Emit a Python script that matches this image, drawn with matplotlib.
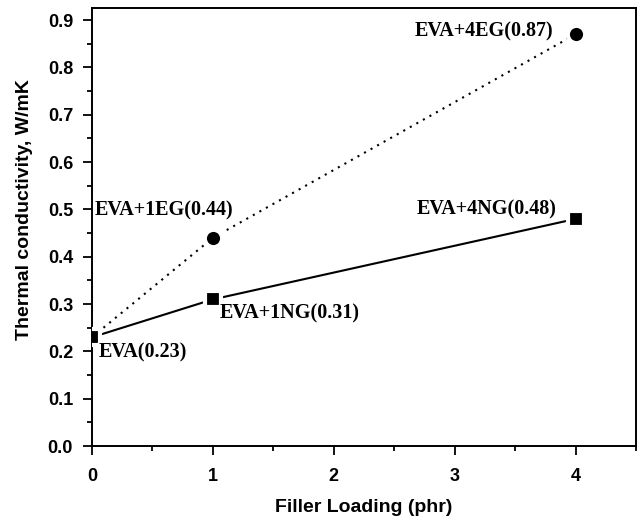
import numpy as np
import matplotlib
matplotlib.use('Agg')
import matplotlib.pyplot as plt
from matplotlib.ticker import MultipleLocator

# data
loading = [0, 1, 4]
k_ng = [0.23, 0.31, 0.48]
k_eg = [0.23, 0.44, 0.87]
labels_ng = ['EVA(0.23)', 'EVA+1NG(0.31)', 'EVA+4NG(0.48)']
labels_eg = ['', 'EVA+1EG(0.44)', 'EVA+4EG(0.87)']

plt.rcParams['font.family'] = 'Liberation Sans'
plt.rcParams['font.weight'] = 'bold'

fig = plt.figure(figsize=(6.38, 5.17), dpi=100)
ax = fig.add_axes([0.144, 0.137, 0.853, 0.848])

# lines first, markers on top with white rim to leave a gap
ax.plot(loading, k_eg, color='black', lw=1.5, ls=(0, (1, 2.6)), zorder=2)
ax.plot(loading, k_ng, color='black', lw=1.5, ls='-', zorder=2)
ax.plot(loading[1:], k_eg[1:], 'o', color='black', ms=12.5,
        mec='white', mew=3, zorder=3)
ax.plot(loading, k_ng, 's', color='black', ms=11.5,
        mec='white', mew=3, zorder=3)

serif = dict(family='Liberation Serif', weight='bold', fontsize=14.5)
ax.annotate(labels_ng[0], (loading[0], k_ng[0]), xytext=(5, -11),
            textcoords='offset points', ha='left', va='center', **serif)
ax.annotate(labels_ng[1], (loading[1], k_ng[1]), xytext=(5, -10),
            textcoords='offset points', ha='left', va='center', **serif)
ax.annotate(labels_ng[2], (loading[2], k_ng[2]), xytext=(-14, 7),
            textcoords='offset points', ha='right', va='center', **serif)
ax.annotate(labels_eg[1], (loading[1], k_eg[1]), xytext=(-85, 20),
            textcoords='offset points', ha='left', va='center', **serif)
ax.annotate(labels_eg[2], (loading[2], k_eg[2]), xytext=(-16, 2),
            textcoords='offset points', ha='right', va='center', **serif)

ax.set_xlim(0, 4.5)
ax.set_ylim(0, 0.926)
ax.set_xticks([0, 1, 2, 3, 4])
ax.xaxis.set_minor_locator(MultipleLocator(0.5))
ax.yaxis.set_minor_locator(MultipleLocator(0.05))
ax.set_yticks(np.arange(0, 0.91, 0.1))
ax.tick_params(which='both', direction='out', top=False, right=False,
               width=1.3, labelsize=13)
ax.tick_params(which='major', length=6.5)
ax.tick_params(which='minor', length=3.5)
ax.tick_params(axis='y', which='major', pad=7)
ax.tick_params(axis='x', which='major', pad=9)
for s in ax.spines.values():
    s.set_linewidth(1.4)

ax.set_xlabel('Filler Loading (phr)', fontsize=14, fontweight='bold', labelpad=10)
ax.set_ylabel('Thermal conductivity, W/mK', fontsize=14, fontweight='bold')
ax.yaxis.set_label_coords(-0.108, 0.54)

fig.savefig('out.png', dpi=100)
